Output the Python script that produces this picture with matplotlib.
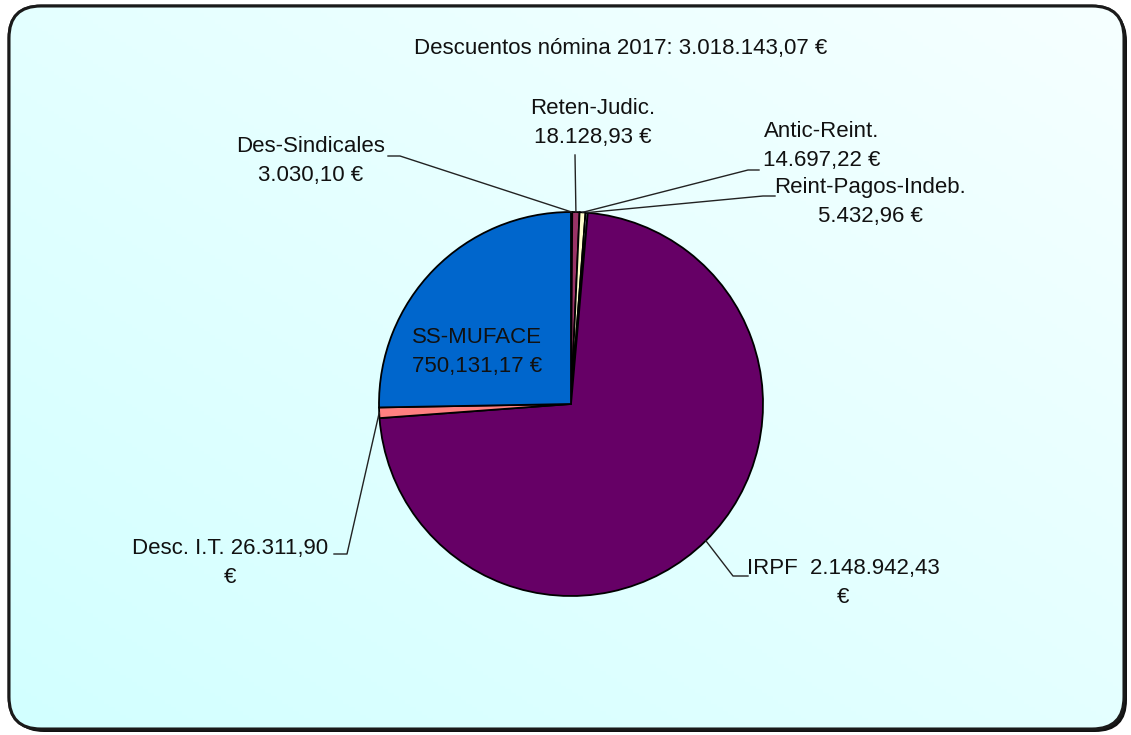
import numpy as np
import matplotlib
matplotlib.use("Agg")
import matplotlib.pyplot as plt
import matplotlib.patches as patches
from matplotlib import font_manager

labels = ["Des-Sindicales", "Reten-Judic.", "Antic-Reint.", "Reint-Pagos-Indeb.",
          "IRPF", "Desc. I.T.", "SS-MUFACE"]
values = [3030.10, 18128.93, 14697.22, 5432.96, 2148942.43, 26311.90, 750131.17]
colors = ["#9999FF", "#993366", "#FFFFCC", "#CCFFFF", "#660066", "#FF8080", "#0066CC"]
label_texts = ["Des-Sindicales\n3.030,10 €", "Reten-Judic.\n18.128,93 €",
               "Antic-Reint.\n14.697,22 €", "Reint-Pagos-Indeb.\n5.432,96 €",
               "IRPF  2.148.942,43\n€", "Desc. I.T. 26.311,90\n€",
               "SS-MUFACE\n750,131,17 €"]
title = "Descuentos nómina 2017: 3.018.143,07 €"

W, H = 1131, 735
names = {f.name for f in font_manager.fontManager.ttflist}
family = "Liberation Sans Narrow" if "Liberation Sans Narrow" in names else "Liberation Sans"
plt.rcParams["font.family"] = [family, "DejaVu Sans"]


def Y(y):
    # picture coords (y down) -> axes coords (y up)
    return H - y


fig = plt.figure(figsize=(W / 100, H / 100), dpi=100)
ax = fig.add_axes([0, 0, 1, 1])

# frame with shadow and gradient fill
x0, y0, x1, y1 = 9, 6, 1124, 729
shadow = patches.FancyBboxPatch((x0 + 3, Y(y1) - 3), x1 - x0, y1 - y0,
                                boxstyle="round,pad=0,rounding_size=32",
                                facecolor="#111111", edgecolor="none", zorder=0)
ax.add_patch(shadow)
frame = patches.FancyBboxPatch((x0, Y(y1)), x1 - x0, y1 - y0,
                               boxstyle="round,pad=0,rounding_size=32",
                               facecolor="#E4FFFF", edgecolor="#1a1a1a",
                               linewidth=2, zorder=1)
ax.add_patch(frame)
gx, gy = np.meshgrid(np.linspace(0, 1, 200), np.linspace(0, 1, 200))
grad = (gx + gy) / 2
cmap = matplotlib.colors.LinearSegmentedColormap.from_list("bg", ["#D2FFFF", "#F6FFFF"])
img = ax.imshow(grad, extent=(x0, x1, Y(y1), Y(y0)), origin="lower", cmap=cmap,
                zorder=1.1, aspect="auto")
img.set_clip_path(frame)
border = patches.FancyBboxPatch((x0, Y(y1)), x1 - x0, y1 - y0,
                                boxstyle="round,pad=0,rounding_size=32",
                                facecolor="none", edgecolor="#1a1a1a",
                                linewidth=2.2, zorder=1.2)
ax.add_patch(border)

cx, cy, r = 571, Y(404), 192
wedges, _ = ax.pie(values, colors=colors, startangle=90, counterclock=False,
                   center=(cx, cy), radius=r,
                   wedgeprops=dict(edgecolor="black", linewidth=1.3))
for w in wedges:
    w.set_zorder(2)

ax.set_xlim(0, W)
ax.set_ylim(0, H)
ax.axis("off")

fs = 16
ax.text(621, Y(48), title, ha="center", va="center", fontsize=16, color="#111111", zorder=5)

# label centres and leader elbows (picture coords)
label_pos = [(311, 161), (593, 123), (822, 146), (870, 202), (843, 583), (230, 563), (477, 352)]
elbows = [[(388, 156), (400, 156)], [(575, 155)], [(748, 170), (759, 170)],
          [(763, 196), (775, 196)], [(748, 576), (733, 576)], [(334, 554), (347, 554)], None]

for w, txt, (lx, ly), elb in zip(wedges, label_texts, label_pos, elbows):
    ax.text(lx, Y(ly), txt, ha="center", va="center", fontsize=fs, color="#111111",
            linespacing=1.45, zorder=5)
    if elb is None:
        continue
    mid = np.deg2rad((w.theta1 + w.theta2) / 2)
    px, py = cx + r * np.cos(mid), cy + r * np.sin(mid)
    pts = [(ex, Y(ey)) for ex, ey in elb]
    # the elbow closest to the pie connects to the wedge
    if len(pts) == 2:
        d0 = np.hypot(pts[0][0] - px, pts[0][1] - py)
        d1 = np.hypot(pts[1][0] - px, pts[1][1] - py)
        if d0 < d1:
            pts = pts[::-1]
    xs = [p[0] for p in pts] + [px]
    ys = [p[1] for p in pts] + [py]
    ax.plot(xs, ys, color="#222222", linewidth=1, zorder=4)

fig.savefig("out.png", dpi=100)
